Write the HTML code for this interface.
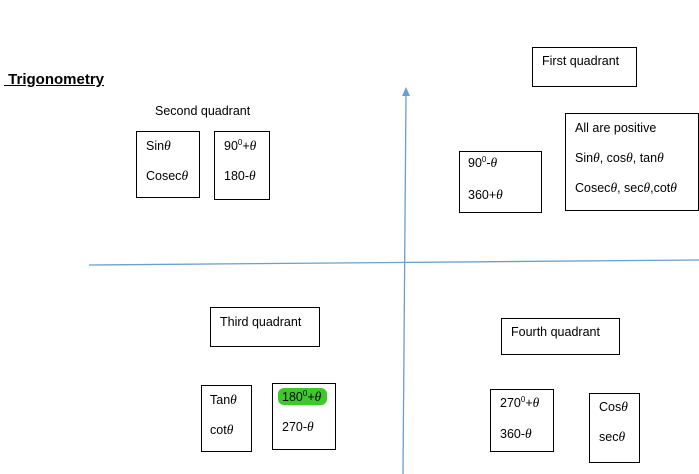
<!DOCTYPE html>
<html><head><style>
body{margin:0;width:699px;height:474px;background:#fff;position:relative;overflow:hidden;font-family:"Liberation Sans",sans-serif;font-size:12.5px;color:#000}
.b{position:absolute;border:1px solid #000;box-sizing:border-box}
.t{position:absolute;white-space:nowrap;line-height:14px;margin-top:1px}
i{font-family:"Liberation Serif",serif;font-size:13.5px}
sup{font-size:8px;vertical-align:5px;line-height:0}
</style></head><body>
<svg width="699" height="474" style="position:absolute;left:0;top:0">
<line x1="89" y1="265" x2="699" y2="260" stroke="#6a9fce" stroke-width="1.3"/>
<line x1="406" y1="94" x2="403" y2="474" stroke="#6a9fce" stroke-width="1.3"/>
<polygon points="406,87 402,96 410,96" fill="#6a9fce"/>
</svg>
<div class="t" style="left:4px;top:72px;font-size:15px;font-weight:bold;text-decoration:underline">&nbsp;Trigonometry</div>

<div class="b" style="left:532px;top:47px;width:105px;height:40px"></div>
<div class="t" style="left:542px;top:53px">First quadrant</div>

<div class="b" style="left:565px;top:113px;width:134px;height:98px"></div>
<div class="t" style="left:575px;top:120px">All are positive</div>
<div class="t" style="left:575px;top:150px">Sin<i>θ</i>, cos<i>θ</i>, tan<i>θ</i></div>
<div class="t" style="left:575px;top:180px">Cosec<i>θ</i>, sec<i>θ</i>,cot<i>θ</i></div>

<div class="b" style="left:459px;top:151px;width:83px;height:62px"></div>
<div class="t" style="left:468px;top:155px">90<sup>0</sup>-<i>θ</i></div>
<div class="t" style="left:468px;top:187px">360+<i>θ</i></div>

<div class="t" style="left:155px;top:103px">Second quadrant</div>
<div class="b" style="left:136px;top:131px;width:64px;height:67px"></div>
<div class="t" style="left:146px;top:138px">Sin<i>θ</i></div>
<div class="t" style="left:146px;top:168px">Cosec<i>θ</i></div>
<div class="b" style="left:214px;top:131px;width:56px;height:69px"></div>
<div class="t" style="left:224px;top:138px">90<sup>0</sup>+<i>θ</i></div>
<div class="t" style="left:224px;top:168px">180-<i>θ</i></div>

<div class="b" style="left:210px;top:307px;width:110px;height:40px"></div>
<div class="t" style="left:220px;top:314px">Third quadrant</div>
<div class="b" style="left:201px;top:385px;width:51px;height:67px"></div>
<div class="t" style="left:210px;top:392px">Tan<i>θ</i></div>
<div class="t" style="left:210px;top:422px">cot<i>θ</i></div>
<div class="b" style="left:272px;top:383px;width:64px;height:67px"></div>
<div style="position:absolute;left:278px;top:388px;width:49px;height:17px;background:#3dc92a;border-radius:6px"></div>
<div class="t" style="left:282px;top:389px">180<sup>0</sup>+<i>θ</i></div>
<div class="t" style="left:282px;top:419px">270-<i>θ</i></div>

<div class="b" style="left:501px;top:318px;width:119px;height:37px"></div>
<div class="t" style="left:511px;top:324px">Fourth quadrant</div>
<div class="b" style="left:490px;top:389px;width:64px;height:63px"></div>
<div class="t" style="left:500px;top:395px">270<sup>0</sup>+<i>θ</i></div>
<div class="t" style="left:500px;top:426px">360-<i>θ</i></div>
<div class="b" style="left:589px;top:393px;width:51px;height:70px"></div>
<div class="t" style="left:599px;top:399px">Cos<i>θ</i></div>
<div class="t" style="left:599px;top:429px">sec<i>θ</i></div>
</body></html>
